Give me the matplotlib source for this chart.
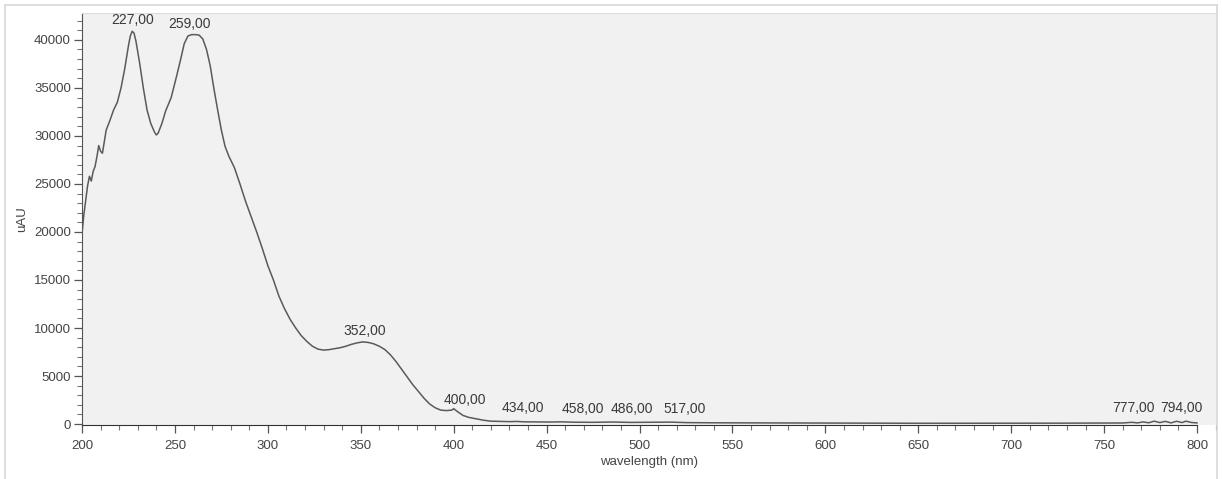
import matplotlib.pyplot as plt
from matplotlib.ticker import MultipleLocator
from matplotlib.lines import Line2D

plt.rcParams['font.family'] = ['Liberation Sans', 'DejaVu Sans']

# spectrum
wavelength = [200, 201, 202, 203, 204, 205, 206, 207, 208, 209, 210, 211, 212, 213,
              215, 217, 219, 221, 223, 224, 225, 226, 227, 228, 229, 231, 233, 235,
              237, 239, 240, 241, 243, 245, 248, 251, 253, 255, 257, 259, 261, 263,
              265, 267, 269, 271, 273, 275, 277, 279, 282, 285, 288, 291, 294, 297,
              300, 303, 306, 309, 312, 315, 318, 321, 324, 327, 330, 333, 336, 339,
              342, 345, 348, 351, 354, 357, 360, 363, 366, 369, 372, 375, 378, 381,
              384, 387, 390, 393, 396, 399, 400, 402, 405, 408, 412, 416, 420, 425,
              430, 434, 438, 445, 452, 458, 465, 475, 486, 495, 505, 517, 525, 540,
              560, 580, 600, 625, 650, 675, 700, 725, 750, 760, 765, 768, 771, 774,
              777, 780, 783, 786, 789, 792, 794, 797, 800]
absorbance = [19800, 21800, 23300, 24800, 25800, 25300, 26300, 26800, 27800, 29000, 28400, 28200, 29400, 30600,
              31600, 32700, 33500, 35000, 37000, 38200, 39400, 40400, 40900, 40700, 39900, 37600, 35000, 32700,
              31300, 30400, 30100, 30300, 31300, 32600, 34000, 36300, 37900, 39600, 40400, 40550, 40550, 40500,
              40100, 39000, 37300, 34900, 32700, 30600, 28900, 27900, 26700, 25000, 23200, 21600, 20000, 18300,
              16500, 15000, 13300, 12000, 10900, 10000, 9200, 8600, 8100, 7800, 7700, 7750, 7850, 7950,
              8100, 8300, 8450, 8550, 8500, 8350, 8100, 7750, 7200, 6500, 5700, 4900, 4100, 3400,
              2700, 2100, 1700, 1450, 1400, 1450, 1600, 1300, 900, 700, 550, 400, 300, 280,
              250, 270, 230, 220, 210, 230, 190, 180, 210, 170, 180, 200, 150, 130,
              120, 110, 100, 90, 80, 80, 80, 90, 100, 110, 180, 120, 220, 130,
              300, 150, 280, 120, 290, 150, 300, 160, 120]

peak_wl = [227, 259, 352, 400, 434, 458, 486, 517, 777, 794]
peak_val = [40900, 40550, 8550, 1600, 270, 230, 210, 200, 300, 300]
peak_text = ["227,00", "259,00", "352,00", "400,00", "434,00", "458,00",
             "486,00", "517,00", "777,00", "794,00"]
# label shift in pixels, as placed by the instrument software
label_dx = [0, -2, 0, 11, 6, 21, 18, 14, -21, -4]
label_dy = [4, 4, 4, 2, 6, 6, 6, 6, 6, 6]

W, H = 1222, 479
fig = plt.figure(figsize=(W / 100, H / 100), dpi=100)
fig.patch.set_facecolor('white')

# outer frame of the screenshot
frame = '#d8d8d8'
fig.add_artist(Line2D([5 / W, 5 / W], [0, 1 - 5 / H], color=frame, lw=1.2))
fig.add_artist(Line2D([1217 / W, 1217 / W], [0, 1 - 5 / H], color=frame, lw=1.2))
fig.add_artist(Line2D([5 / W, 1217 / W], [1 - 5 / H, 1 - 5 / H], color=frame, lw=1.2))

ax = fig.add_axes([82 / W, 54 / H, (1217 - 82) / W, (425 - 13) / H])
ax.set_facecolor('#f1f1f1')

ax.plot(wavelength, absorbance, color='#5a5a5a', lw=1.1)

for wl, v, t, dx, dy in zip(peak_wl, peak_val, peak_text, label_dx, label_dy):
    ax.annotate(t, xy=(wl, v), xytext=(dx, dy), textcoords='offset pixels',
                ha='center', va='bottom', fontsize=10, color='#3a3a3a')

px_per_nm = (1197 - 82) / 600
ax.set_xlim(200, 800 + (1217 - 1197) / px_per_nm)
ax.set_ylim(-100, 42800)

ax.xaxis.set_major_locator(MultipleLocator(50))
ax.xaxis.set_minor_locator(MultipleLocator(10))
ax.yaxis.set_major_locator(MultipleLocator(5000))
ax.yaxis.set_minor_locator(MultipleLocator(1000))
ax.set_xticks(range(200, 801, 50))

ax.spines['right'].set_visible(False)
ax.spines['top'].set_color('#dcdcdc')
ax.spines['left'].set_color('#555555')
ax.spines['bottom'].set_color('#333333')
ax.spines['bottom'].set_bounds(200, 800)

ax.tick_params(axis='both', which='major', labelsize=9.5, labelcolor='#444444',
               color='#555555', length=6, width=0.9, pad=2)
ax.tick_params(axis='both', which='minor', color='#777777', length=3.5, width=0.8)
ax.tick_params(axis='x', which='major', pad=5)

ax.set_xlabel("wavelength (nm)", fontsize=9.5, color='#444444', labelpad=3)
ax.set_ylabel("uAU", fontsize=9.5, color='#444444', labelpad=4)

fig.savefig('out.png', dpi=100)
